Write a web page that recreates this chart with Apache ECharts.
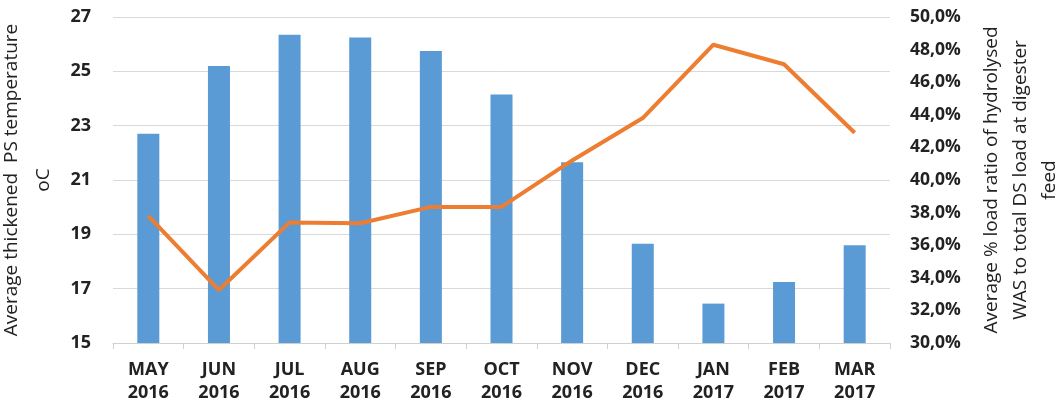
<!DOCTYPE html>
<html><head><meta charset="utf-8">
<script src="https://cdn.jsdelivr.net/npm/echarts@6/dist/echarts.min.js"></script>
<style>html,body{margin:0;padding:0;background:#fff}#c{width:1064px;height:407px}</style>
</head><body><div id="c"></div>
<script>
const categories = ['MAY\n2016','JUN\n2016','JUL\n2016','AUG\n2016','SEP\n2016','OCT\n2016','NOV\n2016','DEC\n2016','JAN\n2017','FEB\n2017','MAR\n2017'];
const temperature = [22.7, 25.2, 26.35, 26.25, 25.75, 24.15, 21.65, 18.65, 16.45, 17.25, 18.6];
const loadRatio = [37.8, 33.25, 37.4, 37.35, 38.35, 38.35, 41.2, 43.8, 48.3, 47.1, 42.9];
const chart = echarts.init(document.getElementById('c'));
const lab = {color:'#222', fontWeight:'bold', fontSize:18, fontFamily:'Open Sans'};
chart.setOption({
  animation:false,
  grid:{left:113, right:174, top:17, bottom:64, containLabel:false, outerBoundsMode:'none'},
  xAxis:{type:'category', data:categories,
    axisLine:{lineStyle:{color:'#d0d0d0'}},
    axisTick:{show:true, length:6, lineStyle:{color:'#d0d0d0'}},
    axisLabel:{...lab, fontSize:18, lineHeight:23, margin:15}},
  yAxis:[
    {type:'value', min:15, max:27, interval:2,
     name:'Average thickened  PS temperature\noC', nameLocation:'middle', nameGap:41,
     nameTextStyle:{color:'#222', fontSize:19, fontFamily:'Open Sans', lineHeight:32},
     axisLabel:{...lab, margin:22},
     splitLine:{lineStyle:{color:'#d9d9d9'}}, axisLine:{show:false}},
    {type:'value', min:30, max:50, interval:2, position:'right',
     name:'Average % load ratio of hydrolysed\nWAS to total DS load at digester\nfeed', nameLocation:'middle', nameGap:87, nameRotate:90,
     nameTextStyle:{color:'#222', fontSize:19, fontFamily:'Open Sans', lineHeight:29},
     axisLabel:{...lab, fontSize:17.5, margin:20, formatter:v=>v.toFixed(1).replace('.',',')+'%'},
     splitLine:{show:false}, axisLine:{show:false}}
  ],
  series:[
    {type:'bar', data:temperature, barWidth:22, itemStyle:{color:'#5b9bd5'}},
    {type:'line', yAxisIndex:1, data:loadRatio, symbol:'none', lineStyle:{color:'#ed7d31', width:4}}
  ]
});
</script></body></html>
